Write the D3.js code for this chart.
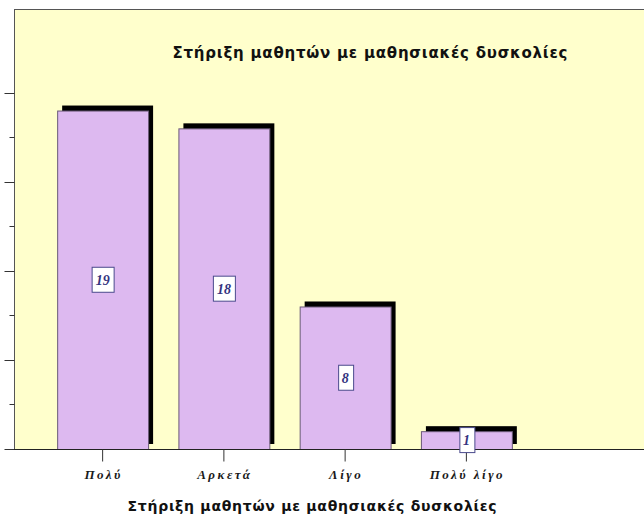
<!DOCTYPE html>
<html>
<head>
<meta charset="utf-8">
<script src="https://cdn.jsdelivr.net/npm/d3@7"></script>
<style>
    body { margin: 0; background: #fff; }
    svg { display: block; }
</style>
</head>
<body>
<svg id="chart" width="644" height="519"></svg>
<script>
// data
const categories = ["Πολύ", "Αρκετά", "Λίγο", "Πολύ λίγο"];
const counts = [19, 18, 8, 1];
const majorTicks = [0, 5, 10, 15, 20];
const minorTicks = [2.5, 7.5, 12.5, 17.5];
const chartTitle = "Στήριξη μαθητών με μαθησιακές δυσκολίες";
const axisTitle = "Στήριξη μαθητών με μαθησιακές δυσκολίες";

const width = 644,
    height = 519;
const plot = { left: 14, top: 9, bottom: 449 };
const shadow = { dx: 5, dy: -5 };

const svg = d3.select("#chart");

const x = d3
    .scaleBand()
    .domain(categories)
    .range([42, 527])
    .paddingInner(0.25)
    .paddingOuter(0.125);

const y = d3.scaleLinear().domain([0, 24.7]).range([plot.bottom, plot.top]);

const rows = categories.map((c, i) => ({ cat: c, value: counts[i] }));

// plot background
svg.append("rect")
    .attr("x", plot.left + 0.5)
    .attr("y", plot.top + 0.5)
    .attr("width", width - plot.left + 2)
    .attr("height", plot.bottom - plot.top)
    .attr("fill", "#ffffcc")
    .attr("stroke", "#555")
    .attr("stroke-width", 1);

// title inside the plot
svg.append("text")
    .attr("x", 370)
    .attr("y", 58)
    .attr("text-anchor", "middle")
    .attr("font-family", "DejaVu Sans")
    .attr("font-weight", "bold")
    .attr("font-size", "15px")
    .attr("textLength", 395)
    .attr("lengthAdjust", "spacing")
    .attr("fill", "#111")
    .text(chartTitle);

// shadows
svg.append("g")
    .selectAll("rect")
    .data(rows)
    .join("rect")
    .attr("x", d => x(d.cat) + shadow.dx)
    .attr("y", d => y(d.value) + shadow.dy)
    .attr("width", x.bandwidth())
    .attr("height", d => y(0) - y(d.value))
    .attr("fill", "#000");

// bars
svg.append("g")
    .selectAll("rect")
    .data(rows)
    .join("rect")
    .attr("x", d => x(d.cat) + 0.5)
    .attr("y", d => y(d.value) + 0.5)
    .attr("width", x.bandwidth())
    .attr("height", d => y(0) - y(d.value))
    .attr("fill", "#ddb9f0")
    .attr("stroke", "#6a5a78")
    .attr("stroke-width", 1);

// left axis ticks (no labels)
const yAxis = svg.append("g").attr("transform", `translate(${plot.left + 0.5},0)`);
yAxis.selectAll("line.major")
    .data(majorTicks)
    .join("line")
    .attr("class", "major")
    .attr("x1", -10)
    .attr("x2", 0)
    .attr("y1", d => Math.round(y(d)) + 0.5)
    .attr("y2", d => Math.round(y(d)) + 0.5)
    .attr("stroke", "#333");
yAxis.selectAll("line.minor")
    .data(minorTicks)
    .join("line")
    .attr("class", "minor")
    .attr("x1", -5)
    .attr("x2", 0)
    .attr("y1", d => Math.round(y(d)) + 0.5)
    .attr("y2", d => Math.round(y(d)) + 0.5)
    .attr("stroke", "#333");

// bottom axis
const xAxis = svg
    .append("g")
    .attr("transform", `translate(0,${plot.bottom + 0.5})`)
    .call(d3.axisBottom(x).tickSize(12).tickSizeOuter(0).tickPadding(8));
xAxis.select(".domain").attr("d", `M${plot.left},0H${width}`).attr("stroke", "#222");
xAxis.selectAll(".tick line").attr("stroke", "#333");
xAxis.selectAll(".tick text")
    .attr("font-family", "Liberation Serif")
    .attr("font-style", "italic")
    .attr("font-weight", "bold")
    .attr("font-size", "13px")
    .attr("letter-spacing", "2.5px")
    .attr("dx", "1px")
    .attr("fill", "#1a1a1a");

// value labels in boxes
const labels = svg.append("g")
    .selectAll("g")
    .data(rows)
    .join("g")
    .attr("transform", d => `translate(${x(d.cat) + x.bandwidth() / 2},${(y(d.value) + y(0)) / 2})`);
labels.append("rect").attr("fill", "#fff").attr("stroke", "#4a4a8c").attr("stroke-width", 1);
labels.append("text")
    .attr("text-anchor", "middle")
    .attr("dy", "0.35em")
    .attr("font-family", "Liberation Serif")
    .attr("font-style", "italic")
    .attr("font-weight", "bold")
    .attr("font-size", "14px")
    .attr("fill", "#34347f")
    .text(d => d.value);
labels.each(function() {
    const g = d3.select(this);
    const b = g.select("text").node().getBBox();
    g.select("rect")
        .attr("x", Math.round(b.x - 4) + 0.5)
        .attr("y", -12.5)
        .attr("width", Math.round(b.width + 8))
        .attr("height", 25);
});

// axis title
svg.append("text")
    .attr("x", 312)
    .attr("y", 511)
    .attr("text-anchor", "middle")
    .attr("font-family", "DejaVu Sans")
    .attr("font-weight", "bold")
    .attr("font-size", "14px")
    .attr("textLength", 369)
    .attr("lengthAdjust", "spacing")
    .attr("fill", "#111")
    .text(axisTitle);
</script>
</body>
</html>
